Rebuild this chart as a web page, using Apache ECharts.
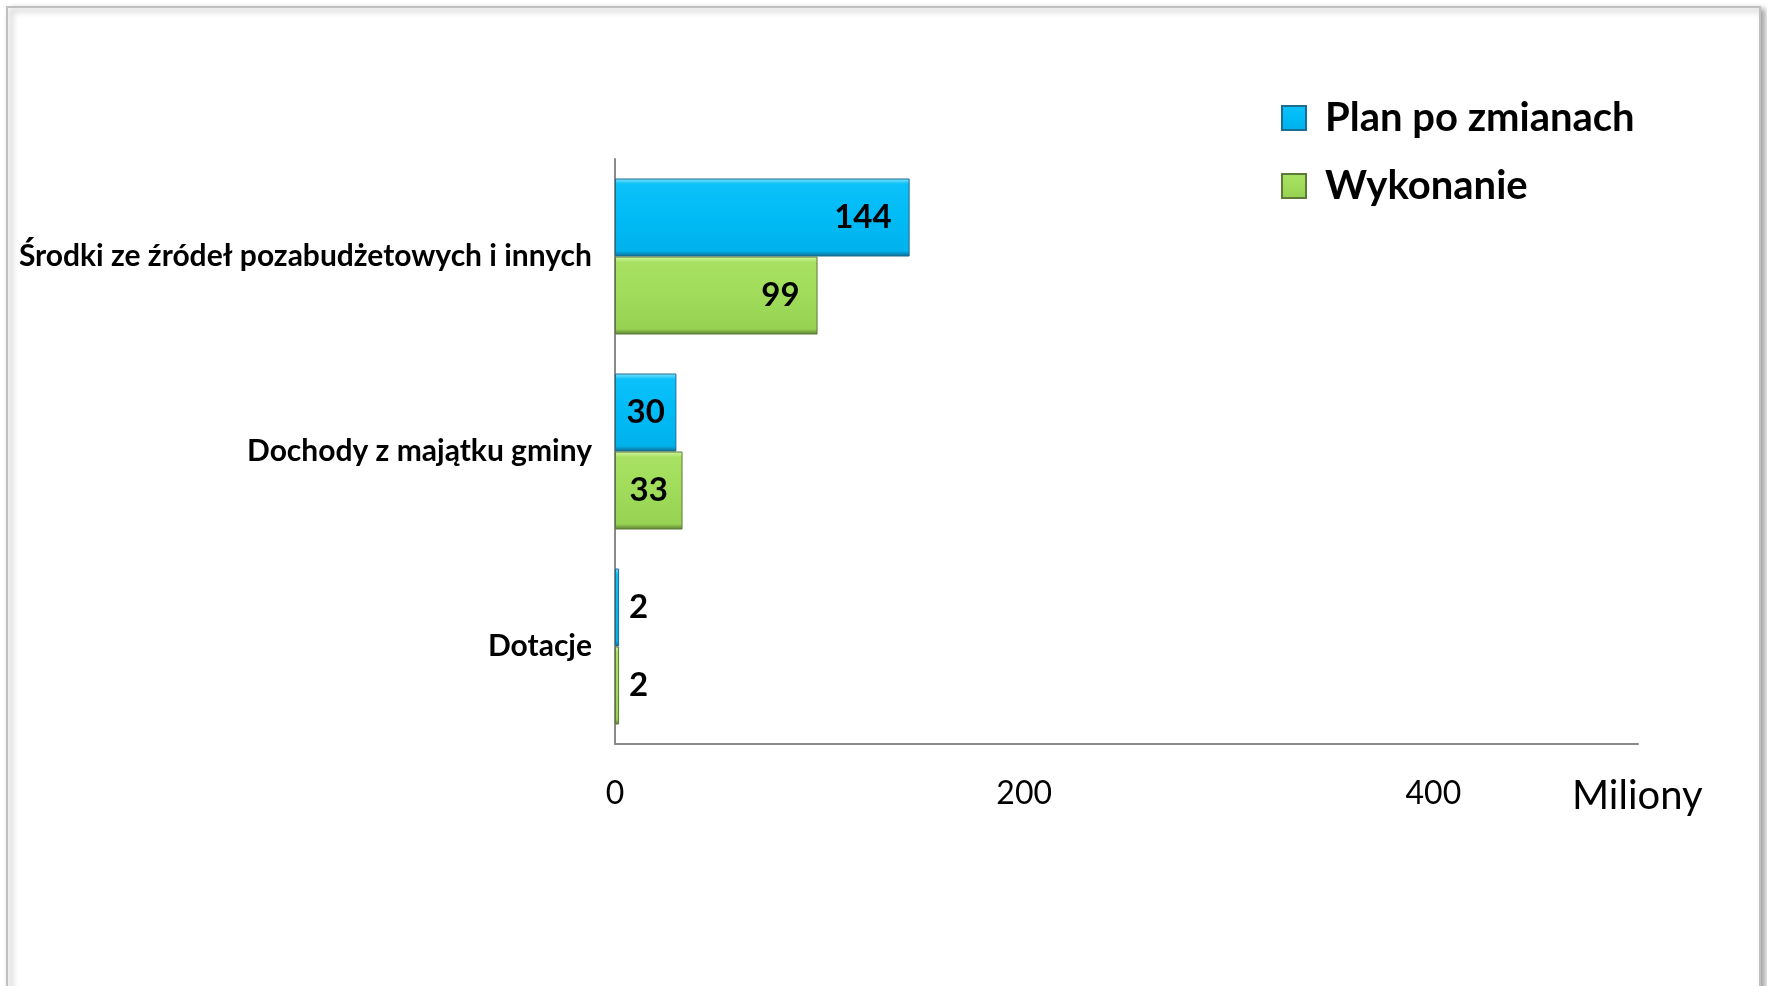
<!DOCTYPE html>
<html>
<head>
<meta charset="utf-8">
<script src="https://cdn.jsdelivr.net/npm/echarts@6/dist/echarts.min.js"></script>
<style>
html,body{margin:0;padding:0;background:#fff;}
#chart{width:1767px;height:986px;}
</style>
</head>
<body>
<div id="chart"></div>
<script>
const categories = ['Środki ze źródeł pozabudżetowych i innych', 'Dochody z majątku gminy', 'Dotacje'];
const seriesNames = ['Plan po zmianach', 'Wykonanie'];
const planValues = [144, 30, 2];
const wykonanieValues = [99, 33, 2];
const axisMin = 0, axisMax = 500, axisInterval = 200;
const axisUnit = 'Miliony';

const FONT = 'Lato';

function labelFor(v) {
  if (v < 10) return { position: 'right', distance: 10 };
  if (v < 50) return { position: 'inside' };
  return { position: 'insideRight', distance: 18 };
}
function items(values) {
  return values.map(v => ({ value: v, label: labelFor(v) }));
}

const blueGrad = new echarts.graphic.LinearGradient(0, 0, 0, 1, [
  { offset: 0, color: '#86e6ff' },
  { offset: 0.07, color: '#0cc1f9' },
  { offset: 0.5, color: '#00bbf6' },
  { offset: 0.93, color: '#00b2ec' },
  { offset: 1, color: '#0e6a90' }
]);
const greenGrad = new echarts.graphic.LinearGradient(0, 0, 0, 1, [
  { offset: 0, color: '#d6f7a6' },
  { offset: 0.07, color: '#a8e162' },
  { offset: 0.5, color: '#a0dc5a' },
  { offset: 0.93, color: '#97d253' },
  { offset: 1, color: '#5a7d32' }
]);

const chart = echarts.init(document.getElementById('chart'), null, { renderer: 'canvas' });
const labelStyle = {
  show: true,
  color: '#000',
  fontFamily: FONT,
  fontWeight: 'bold',
  fontSize: 33
};

chart.setOption({
  animation: false,
  backgroundColor: '#fff',
  graphic: [
    {
      type: 'rect',
      z: -10,
      shape: { x: 7, y: 7, width: 1753, height: 1100 },
      style: {
        fill: '#fff',
        stroke: '#c0c0c0',
        lineWidth: 2,
        shadowBlur: 6,
        shadowOffsetX: 4,
        shadowOffsetY: 3,
        shadowColor: 'rgba(0,0,0,0.35)'
      }
    },
    {
      type: 'text',
      left: 1572,
      top: 776,
      style: {
        text: axisUnit,
        fill: '#000',
        font: '40px ' + FONT
      }
    }
  ],
  legend: {
    orient: 'vertical',
    left: 1276,
    top: 93,
    itemWidth: 24,
    itemHeight: 24,
    itemGap: 28,
    icon: 'rect',
    data: seriesNames,
    textStyle: {
      color: '#000',
      fontFamily: FONT,
      fontWeight: 'bold',
      fontSize: 40,
      lineHeight: 40,
      padding: [0, 0, 0, 14]
    }
  },
  grid: {
    left: 615,
    right: 129,
    top: 159,
    bottom: 242,
    containLabel: false
  },
  xAxis: {
    type: 'value',
    min: axisMin,
    max: axisMax,
    interval: axisInterval,
    axisLine: { show: true, lineStyle: { color: '#8a8a8a', width: 2 } },
    axisTick: { show: false },
    splitLine: { show: false },
    axisLabel: {
      showMaxLabel: false,
      color: '#000',
      fontFamily: FONT,
      fontSize: 32,
      lineHeight: 32,
      margin: 34
    }
  },
  yAxis: {
    type: 'category',
    inverse: true,
    data: categories,
    axisLine: { show: true, lineStyle: { color: '#8a8a8a', width: 2 } },
    axisTick: { show: false },
    axisLabel: {
      color: '#000',
      fontFamily: FONT,
      fontWeight: 'bold',
      fontSize: 30,
      margin: 23
    }
  },
  series: [
    {
      name: seriesNames[0],
      type: 'bar',
      barGap: '0%',
      barCategoryGap: '20%',
      data: items(planValues),
      itemStyle: { color: blueGrad, borderColor: '#1b6d92', borderWidth: 1 },
      label: labelStyle
    },
    {
      name: seriesNames[1],
      type: 'bar',
      barGap: '0%',
      barCategoryGap: '20%',
      data: items(wykonanieValues),
      itemStyle: { color: greenGrad, borderColor: '#5d7a36', borderWidth: 1 },
      label: labelStyle
    }
  ]
});
</script>
</body>
</html>
